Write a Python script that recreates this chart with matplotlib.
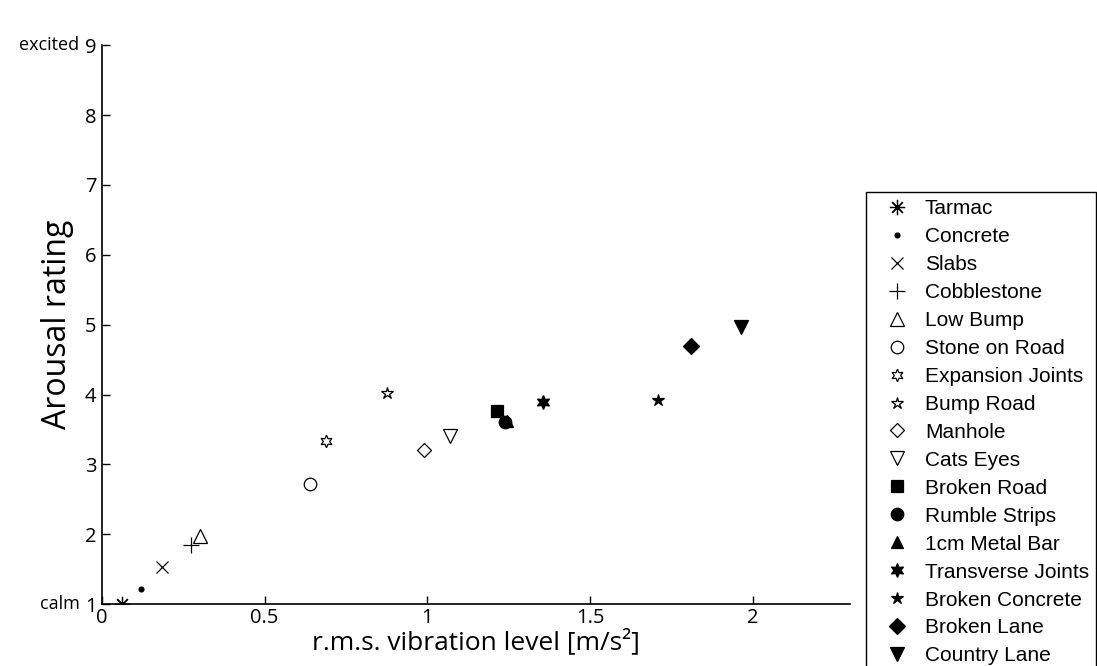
import matplotlib.pyplot as plt

plt.rcParams['font.family'] = ['Open Sans', 'DejaVu Sans']

# data
surfaces = ['Tarmac', 'Concrete', 'Slabs', 'Cobblestone', 'Low Bump', 'Stone on Road',
            'Expansion Joints', 'Bump Road', 'Manhole', 'Cats Eyes', 'Broken Road',
            'Rumble Strips', '1cm Metal Bar', 'Transverse Joints', 'Broken Concrete',
            'Broken Lane', 'Country Lane']
rms_level = [0.06, 0.12, 0.185, 0.275, 0.30, 0.64, 0.69, 0.877, 0.99, 1.07, 1.215,
             1.24, 1.245, 1.357, 1.71, 1.81, 1.965]
arousal = [1.0, 1.21, 1.53, 1.85, 1.98, 2.72, 3.33, 4.02, 3.2, 3.4, 3.76,
           3.6, 3.62, 3.9, 3.92, 4.7, 4.97]

markers = [(8, 2, 0), '.', 'x', '+', '^', 'o', (6, 1, 0), '*', 'D', 'v',
           's', 'o', '^', (6, 1, 0), '*', 'D', 'v']
filled = [True, True, True, True, False, False, False, False, False, False,
          True, True, True, True, True, True, True]
sizes = [11, 7, 8, 11, 10, 9, 9, 9, 7, 10, 9, 9, 9, 10, 9, 8, 10]

fig = plt.figure(figsize=(10.97, 6.66), dpi=100)
ax = fig.add_axes([0.093, 0.093, 0.682, 0.839])

for name, x, y, m, f, s in zip(surfaces, rms_level, arousal, markers, filled, sizes):
    ax.plot(x, y, linestyle='none', marker=m, markersize=s,
            markerfacecolor='black' if f else 'white', markeredgecolor='black',
            markeredgewidth=0.9, color='black', label=name)

ax.set_xlim(0, 2.3)
ax.set_ylim(1, 9)
ax.set_xticks([0, 0.5, 1, 1.5, 2])
ax.set_xticklabels(['0', '0.5', '1', '1.5', '2'])
ax.set_yticks(range(1, 10))
ax.tick_params(direction='in', length=6, labelsize=14.5, width=1)
ax.tick_params(axis='x', pad=3)
ax.tick_params(axis='y', pad=4)
ax.spines['top'].set_visible(False)
ax.spines['right'].set_visible(False)
for sp in ['left', 'bottom']:
    ax.spines[sp].set_linewidth(1.2)

ax.set_xlabel('r.m.s. vibration level [m/s²]', fontsize=19, labelpad=0)
ax.set_ylabel('Arousal rating', fontsize=23, labelpad=8)

trans = ax.get_yaxis_transform()
ax.text(-0.03, 1, 'calm', transform=trans, ha='right', va='center', fontsize=13)
ax.text(-0.03, 9, 'excited', transform=trans, ha='right', va='center', fontsize=13)

leg = ax.legend(loc='upper left', bbox_to_anchor=(0.789, 0.712),
                bbox_transform=fig.transFigure, borderaxespad=0,
                prop={'family': 'Liberation Sans', 'size': 15}, frameon=True,
                fancybox=False, edgecolor='black', framealpha=1,
                labelspacing=0.43, handletextpad=0.2, borderpad=0.35,
                handlelength=2.3, numpoints=1, markerscale=1.0)
leg.get_frame().set_linewidth(1.0)

fig.savefig('out.png', dpi=100)
